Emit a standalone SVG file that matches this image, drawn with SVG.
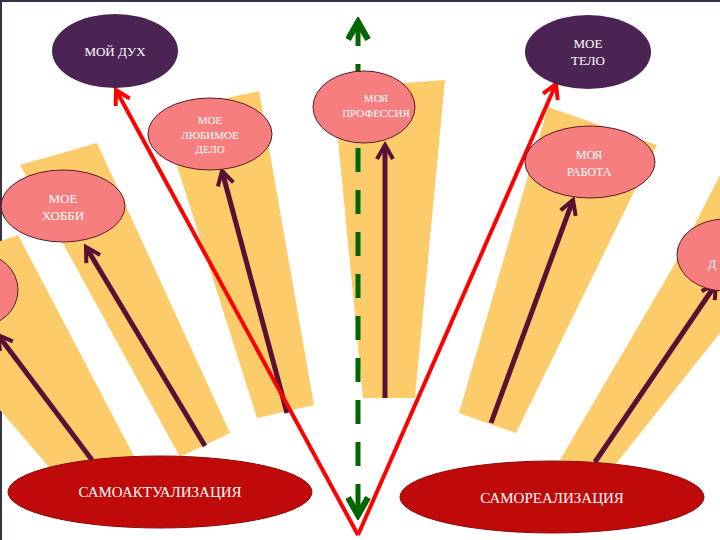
<svg xmlns="http://www.w3.org/2000/svg" width="720" height="540" viewBox="0 0 720 540">
<defs>
<style>
.beam{fill:#FCCB6A}
.pink{fill:#F77E7E;stroke:#5A1A2A;stroke-width:1}
.dark{fill:#4B2454}
.big{fill:#C00A0A;stroke:#8A0A0A;stroke-width:1}
.t{font-family:"Liberation Serif","DejaVu Serif",serif;fill:#fff;text-anchor:middle}
.arr{stroke:#5A1035;stroke-width:5;fill:none;marker-end:url(#ma)}
.red{stroke:#FF0000;stroke-width:4;fill:none;marker-end:url(#mr)}
</style>
<marker id="ma" viewBox="0 0 10 10" refX="8" refY="5" markerWidth="4" markerHeight="4" orient="auto"><path d="M1,1 L8,5 L1,9" fill="none" stroke="#5A1035" stroke-width="2"/></marker>
<marker id="mr" viewBox="0 0 10 10" refX="8" refY="5" markerWidth="5" markerHeight="5" orient="auto"><path d="M1,1 L8,5 L1,9" fill="none" stroke="#FF0000" stroke-width="2"/></marker>
<marker id="mg" viewBox="0 0 10 10" refX="8" refY="5" markerWidth="5" markerHeight="5" orient="auto-start-reverse"><path d="M1,1 L8,5 L1,9" fill="none" stroke="#006600" stroke-width="2.5"/></marker>
</defs>
<rect width="720" height="540" fill="#fff"/>
<line x1="0" y1="1" x2="720" y2="1" stroke="#333344" stroke-width="2"/>
<line x1="1" y1="0" x2="1" y2="540" stroke="#333344" stroke-width="2"/>
<g id="beams">
<polygon class="beam" points="-40,255 18,235 135,458 60,480 0,410"/>
<polygon class="beam" points="20,165 97,143 230,433 180,457"/>
<polygon class="beam" points="160,112 259,91 314,405 257,418"/>
<polygon class="beam" points="333,88 445,80 415,398 363,398"/>
<polygon class="beam" points="548,107 657,145 516,433 459,413"/>
<polygon class="beam" points="673,267 720,175 760,175 720,333 615,465 560,460"/>
</g>
<g id="connectors">
<line class="arr" x1="92" y1="460" x2="-2" y2="335"/>
<line class="arr" x1="205" y1="446" x2="86" y2="247"/>
<line class="arr" x1="287" y1="413" x2="222" y2="171"/>
<line class="arr" x1="385" y1="398" x2="385" y2="145"/>
<line class="arr" x1="491" y1="423" x2="573" y2="200"/>
<line class="arr" x1="595" y1="462" x2="716" y2="284"/>
<line x1="358" y1="22" x2="358" y2="515" stroke="#006600" stroke-width="5" stroke-dasharray="24,18" marker-start="url(#mg)" marker-end="url(#mg)"/>
<line class="red" x1="358" y1="535" x2="116" y2="90"/>
<line class="red" x1="358" y1="535" x2="556" y2="84"/>
</g>
<g id="n-dukh"><ellipse class="dark" cx="115" cy="51" rx="63" ry="37"/><text class="t" x="115" y="56" font-size="13">МОЙ ДУХ</text></g>
<g id="n-telo"><ellipse class="dark" cx="588" cy="52" rx="63" ry="37"/><text class="t" x="588" y="48" font-size="13">МОЕ</text><text class="t" x="588" y="65" font-size="13">ТЕЛО</text></g>
<g id="n-delo"><ellipse class="pink" cx="210" cy="134" rx="62" ry="36"/><text class="t" x="210" y="124" font-size="11">МОЕ</text><text class="t" x="210" y="139" font-size="11">ЛЮБИМОЕ</text><text class="t" x="210" y="153" font-size="11">ДЕЛО</text></g>
<g id="n-prof"><ellipse class="pink" cx="364" cy="107" rx="51" ry="36"/><text class="t" x="376" y="102" font-size="11">МОЯ</text><text class="t" x="376" y="117" font-size="11">ПРОФЕССИЯ</text></g>
<g id="n-rabota"><ellipse class="pink" cx="590" cy="162" rx="65" ry="36"/><text class="t" x="589" y="159" font-size="12">МОЯ</text><text class="t" x="589" y="176" font-size="12">РАБОТА</text></g>
<g id="n-hobbi"><ellipse class="pink" cx="63" cy="206" rx="62" ry="36"/><text class="t" x="63" y="203" font-size="13">МОЕ</text><text class="t" x="63" y="220" font-size="13">ХОББИ</text></g>
<g id="n-right"><ellipse class="pink" cx="725" cy="255" rx="48" ry="36"/><text class="t" x="712" y="268" font-size="12">Д</text></g>
<g id="n-left"><ellipse class="pink" cx="-20" cy="290" rx="38" ry="36"/></g>
<g id="n-samoakt"><ellipse class="big" cx="160" cy="492" rx="152" ry="36"/><text class="t" x="160" y="497" font-size="15">САМОАКТУАЛИЗАЦИЯ</text></g>
<g id="n-samoreal"><ellipse class="big" cx="552" cy="497" rx="152" ry="36"/><text class="t" x="552" y="503" font-size="15">САМОРЕАЛИЗАЦИЯ</text></g>
</svg>
